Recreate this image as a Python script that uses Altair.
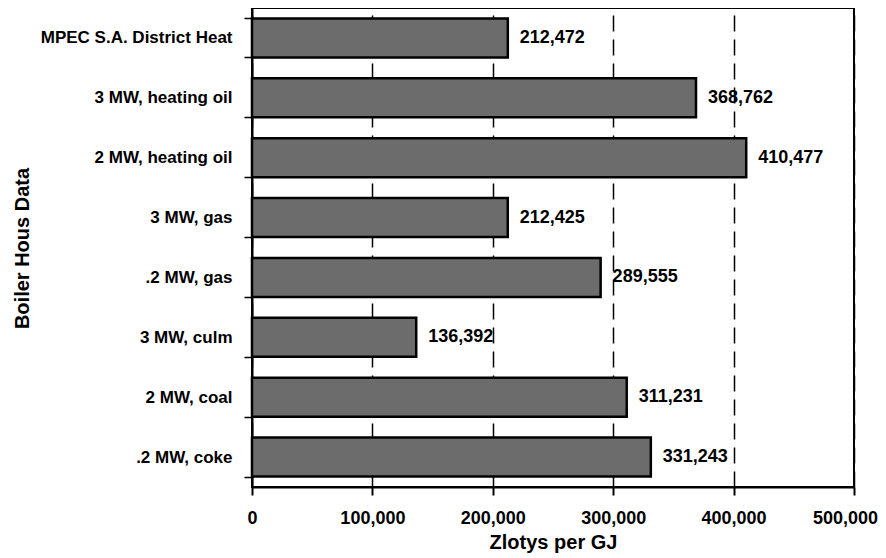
import altair as alt
import pandas as pd

categories = [
    "MPEC S.A. District Heat",
    "3 MW, heating oil",
    "2 MW, heating oil",
    "3 MW, gas",
    ".2 MW, gas",
    "3 MW, culm",
    "2 MW, coal",
    ".2 MW, coke",
]
values = [212472, 368762, 410477, 212425, 289555, 136392, 311231, 331243]
x_ticks = [0, 100000, 200000, 300000, 400000, 500000]

df = pd.DataFrame({"cat": categories, "val": values})

FONT = "Liberation Sans"

y_enc = alt.Y(
    "cat:N",
    sort=None,
    scale=alt.Scale(paddingInner=0.35, paddingOuter=0.175),
    axis=alt.Axis(
        title="Boiler Hous Data",
        titleFont=FONT,
        titleFontSize=20,
        titleFontWeight="bold",
        titleColor="black",
        titleX=-230,
        titleY=240,
        titleAngle=270,
        titleBaseline="middle",
        titleAlign="center",
        labelFont=FONT,
        labelFontSize=17,
        labelFontWeight="bold",
        labelColor="black",
        labelPadding=12,
        labelLimit=400,
        tickBand="extent",
        tickSize=8,
        tickColor="black",
        tickWidth=1.5,
        domainColor="black",
        domainWidth=2,
        grid=False,
    ),
)

x_enc = alt.X(
    "val:Q",
    scale=alt.Scale(domain=[0, 500000], nice=False),
    axis=alt.Axis(
        title="Zlotys per GJ",
        titleFont=FONT,
        titleFontSize=20,
        titleFontWeight="bold",
        titleColor="black",
        titleY=55,
        titleBaseline="middle",
        values=x_ticks,
        format=",d",
        labelFont=FONT,
        labelFontSize=18,
        labelFontWeight="bold",
        labelColor="black",
        labelPadding=14,
        labelFlush=False,
        labelOffset={"expr": "datum.value == 500000 ? -9 : 0"},
        tickSize=8,
        tickColor="black",
        tickWidth=2,
        domainColor="black",
        domainWidth=2,
        grid=True,
        gridColor="black",
        gridDash=[16, 8],
        gridWidth=1.5,
        gridOpacity=1,
    ),
)

bars = alt.Chart(df).mark_bar(
    color="#6c6c6c", stroke="black", strokeWidth=2.5
).encode(x=x_enc, y=y_enc)

labels = alt.Chart(df).mark_text(
    align="left", baseline="middle", dx=12, font=FONT, fontSize=18,
    fontWeight="bold", color="black"
).encode(
    x=alt.X("val:Q"),
    y=alt.Y("cat:N", sort=None),
    text=alt.Text("val:Q", format=",d"),
)

chart = (
    alt.layer(bars, labels)
    .properties(
        width=602,
        height=479,
        autosize=alt.AutoSizeParams(type="none"),
        padding={"left": 244, "top": 0, "right": 24, "bottom": 71},
        background="white",
    )
    .configure_view(stroke="black", strokeWidth=2)
)

chart.save("out.html", embed_options={"renderer": "svg", "actions": False})
